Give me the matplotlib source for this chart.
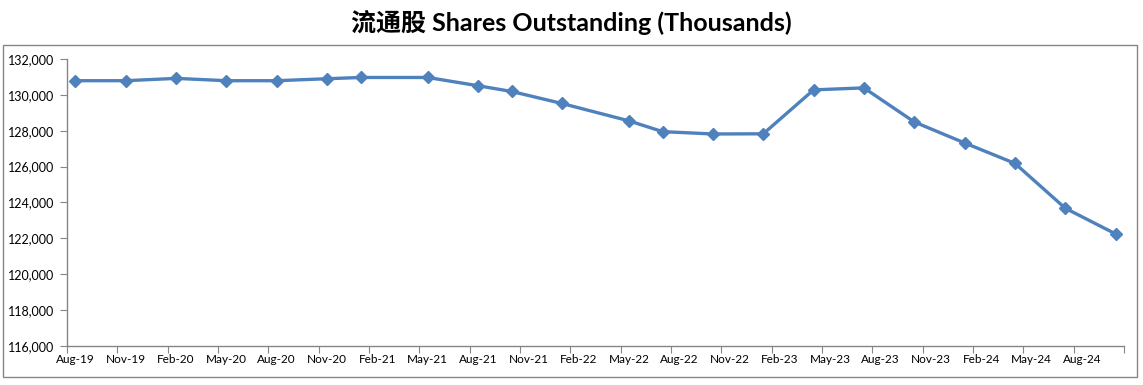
import matplotlib
matplotlib.use('Agg')
import matplotlib.pyplot as plt
from matplotlib.patches import Rectangle
from matplotlib.ticker import FuncFormatter
import pandas as pd

# Datos (miles de acciones)
dates = ['2019-08', '2019-11', '2020-02', '2020-05', '2020-08', '2020-11',
         '2021-01', '2021-05', '2021-08', '2021-10', '2022-01', '2022-05',
         '2022-07', '2022-10', '2023-01', '2023-04', '2023-07', '2023-10',
         '2024-01', '2024-04', '2024-07', '2024-10']
shares = [130790, 130790, 130920, 130790, 130790, 130900,
          130970, 130970, 130510, 130190, 129520, 128550,
          127950, 127820, 127830, 130280, 130390, 128490,
          127320, 126180, 123680, 122250]

tick_labels = ['Aug-19', 'Nov-19', 'Feb-20', 'May-20', 'Aug-20', 'Nov-20', 'Feb-21',
               'May-21', 'Aug-21', 'Nov-21', 'Feb-22', 'May-22', 'Aug-22', 'Nov-22',
               'Feb-23', 'May-23', 'Aug-23', 'Nov-23', 'Feb-24', 'May-24', 'Aug-24']

plt.rcParams['font.family'] = ['Lato', 'Noto Sans CJK SC', 'DejaVu Sans']

# Eje de fechas tipo Excel: una casilla por mes
per = pd.PeriodIndex(dates, freq='M')
start = per[0]
x = [(p - start).n for p in per]
label_pos = [3 * i for i in range(len(tick_labels))]
tick_pos = [3 * i - 0.5 for i in range(len(tick_labels) + 1)]

fig = plt.figure(figsize=(11.43, 3.85), dpi=100)
ax = fig.add_axes([67 / 1143, 39 / 385, (1124 - 67) / 1143, (346 - 59) / 385])

ax.plot(x, shares, color='#4F81BD', linewidth=2.4, marker='D', markersize=6.5,
        markerfacecolor='#4F81BD', markeredgecolor='#4F81BD', clip_on=False)

ax.set_xlim(-0.5, 62.5)
ax.set_ylim(116000, 132000)
ax.set_yticks(range(116000, 132001, 2000))
ax.yaxis.set_major_formatter(FuncFormatter(lambda v, p: f'{int(v):,}'))

ax.set_xticks(tick_pos)
ax.set_xticklabels([])
ax.set_xticks(label_pos, minor=True)
ax.set_xticklabels(tick_labels, minor=True)
ax.tick_params(axis='x', which='minor', length=0, pad=6, labelsize=8.5)
ax.tick_params(axis='x', which='major', length=5, color='#868686', direction='out')
ax.tick_params(axis='y', length=5, color='#868686', direction='out', labelsize=9, pad=4)

for s in ['top', 'right']:
  ax.spines[s].set_visible(False)
for s in ['left', 'bottom']:
  ax.spines[s].set_color('#868686')
  ax.spines[s].set_linewidth(1)

# Borde del grafico
fig.patches.append(Rectangle((3 / 1143, 8 / 385), 1134 / 1143, 332 / 385,
                             transform=fig.transFigure, fill=False,
                             edgecolor='#868686', linewidth=1))

fig.text(0.5, 1 - 22 / 385, '流通股 Shares Outstanding (Thousands)', ha='center', va='center',
         fontsize=18, fontweight='bold')

fig.savefig('out.png', dpi=100)
